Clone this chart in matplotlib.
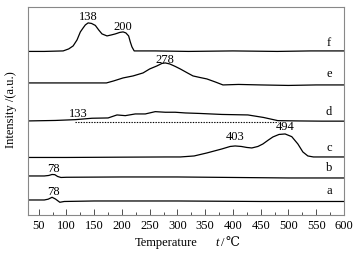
import matplotlib
matplotlib.use("Agg")
import matplotlib.pyplot as plt
from matplotlib.ticker import MultipleLocator

# Temperature (°C) and intensity (a.u., curves stacked with offsets)
f_T = [30, 60, 94, 104, 112, 119, 125, 130, 134, 139, 145, 152, 158, 164, 173, 181, 188, 196, 202, 207, 212, 215, 218, 222, 260, 320, 400, 480, 540, 600]
f_I = [163.5, 163.5, 164, 166, 169, 175, 183, 187, 190, 192, 191.5, 189.5, 185, 181, 179, 180, 181, 182.5, 183, 182, 179, 173, 168, 164, 164, 163.5, 164, 163.5, 164, 164]

e_T = [30, 100, 150, 172, 185, 202, 220, 238, 250, 263, 272, 278, 286, 296, 305, 318, 328, 340, 353, 368, 382, 410, 450, 500, 550, 600]
e_I = [132, 132, 132, 132, 134, 137, 139, 142, 146, 149, 151.5, 152, 151, 148.5, 146, 142, 139, 137.5, 136, 133, 130, 130.5, 130, 129.5, 130, 130]

d_T = [30, 80, 116, 146, 175, 191, 206, 224, 242, 260, 278, 296, 314, 340, 380, 427, 455, 481, 520, 560, 600]
d_I = [94, 94.5, 95.3, 96.7, 97, 100, 99.3, 101, 101, 103.3, 102.7, 102.7, 102, 101.5, 100.5, 100, 97.5, 94.3, 94, 93.8, 93.8]

dot_T = [116, 481]
dot_I = [93, 93]

c_T = [30, 100, 200, 280, 305, 330, 353, 380, 395, 404, 415, 425, 434, 445, 454, 464, 472, 483, 494, 506, 517, 526, 535, 545, 570, 600]
c_I = [57.5, 57.5, 57.8, 58, 58, 59, 62, 66, 68.5, 69, 68.5, 67.5, 67, 68.5, 71, 75, 78, 80.5, 81, 78.3, 71, 63, 59, 58, 58, 58]

b_T = [30, 60, 68, 74, 79, 84, 90, 100, 200, 300, 400, 500, 600]
b_I = [39, 39, 39.5, 40.5, 40.3, 38.5, 37.5, 37.7, 38, 38, 37.5, 37, 37]

a_T = [30, 60, 67, 74, 80, 88, 96, 150, 300, 450, 600]
a_I = [15, 15, 15.8, 17.7, 16, 12.7, 13.5, 14, 14, 13.5, 13.5]

peak_labels = [("138", 139, 199), ("200", 202, 189), ("278", 278, 156), ("133", 122, 102),
               ("403", 404, 79), ("494", 494, 89), ("78", 77, 47), ("78", 77, 24)]
curve_letters = [("f", 173), ("e", 142), ("d", 104), ("c", 68), ("b", 48), ("a", 25)]

plt.rcParams['font.family'] = ['Liberation Serif', 'DejaVu Serif']
fig = plt.figure(figsize=(3.59, 2.55), dpi=100)
ax = fig.add_axes([0.077, 0.153, 0.881, 0.816])

lw = 0.9
for T, I in [(f_T, f_I), (e_T, e_I), (d_T, d_I), (c_T, c_I), (b_T, b_I), (a_T, a_I)]:
    ax.plot(T, I, color='black', lw=lw)
ax.plot(dot_T, dot_I, color='black', lw=0.8, ls=(0, (1.2, 1.2)))

fs = 9
for txt, x, y in peak_labels:
    ax.text(x, y, txt, ha='center', va='center', fontsize=fs)
for txt, y in curve_letters:
    ax.text(573, y, txt, ha='center', va='center', fontsize=fs)

ax.set_xlim(30, 600)
ax.set_ylim(0, 208)
ax.set_xticks(list(range(50, 601, 50)))
ax.xaxis.set_minor_locator(MultipleLocator(25))
ax.set_yticks([])
ax.tick_params(axis='x', which='major', direction='in', length=4, width=0.6, labelsize=fs, pad=3, color='#333333')
ax.tick_params(axis='x', which='minor', direction='in', length=2, width=0.6, color='#333333')
for s in ax.spines.values():
    s.set_color('#888888')
    s.set_linewidth(0.8)

fig.text(166 / 359, 1 - 243 / 255, 'Temperature', ha='center', va='center', fontsize=fs)
fig.text(219 / 359, 1 - 243 / 255, 't', ha='right', va='center', fontsize=fs, style='italic')
fig.text(221 / 359, 1 - 243 / 255, '/', ha='left', va='center', fontsize=fs)
fig.text(225 / 359, 1 - 243 / 255, '℃', ha='left', va='center', fontsize=fs,
         family=['DejaVu Serif'])
fig.text(11 / 359, 1 - 110 / 255, 'Intensity /(a.u.)', ha='center', va='center', fontsize=fs, rotation=90)

fig.savefig('out.png', dpi=100)
